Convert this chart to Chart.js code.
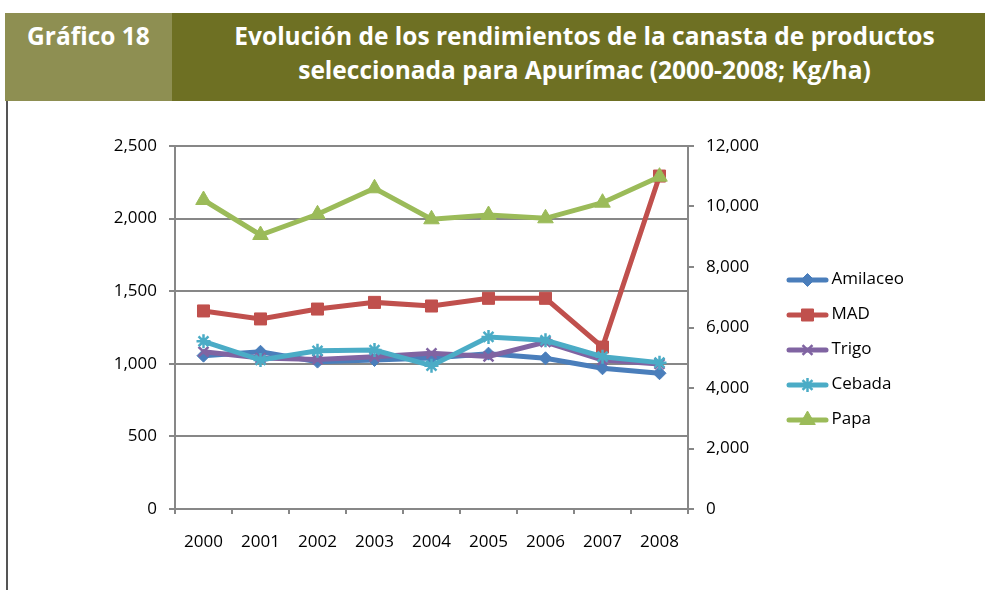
<!DOCTYPE html>
<html>
<head>
<meta charset="utf-8">
<script src="https://cdn.jsdelivr.net/npm/chart.js@4/dist/chart.umd.min.js"></script>
<style>
  html, body { margin: 0; padding: 0; background: #fff; }
  body { width: 987px; height: 590px; position: relative; overflow: hidden; font-family: "Open Sans", sans-serif; }
  #hdr-left {
    position: absolute; left: 5px; top: 13px; width: 167px; height: 88px;
    background: #8e8f52; color: #fff; font-weight: bold; font-size: 24.5px;
    text-align: center; line-height: 30px; padding-top: 8px; box-sizing: border-box;
  }
  #hdr-right {
    position: absolute; left: 172px; top: 13px; width: 813px; height: 88px;
    background: #6e7023; color: #fff; font-weight: bold; font-size: 24.5px;
    text-align: center; line-height: 34px; padding: 6px 0 0 12px; box-sizing: border-box;
  }
  #side-line { position: absolute; left: 6px; top: 101px; width: 2px; height: 489px; background: #555; }
  #chart-wrap { position: absolute; left: 0; top: 101px; width: 987px; height: 489px; }
</style>
</head>
<body>
<div id="hdr-left">Gráfico 18</div>
<div id="hdr-right">Evolución de los rendimientos de la canasta de productos<br>seleccionada para Apurímac (2000-2008; Kg/ha)</div>
<div id="side-line"></div>
<div id="chart-wrap"><canvas id="chart" width="987" height="489"></canvas></div>
<script>
  const years = ["2000", "2001", "2002", "2003", "2004", "2005", "2006", "2007", "2008"];

  // left axis (kg/ha)
  const amilaceo = [1056, 1083, 1015, 1026, 1040, 1070, 1038, 969, 935];
  const mad = [1364, 1309, 1377, 1423, 1398, 1451, 1451, 1115, 2293];
  const trigo = [1083, 1040, 1030, 1049, 1072, 1050, 1150, 1026, 999];
  const cebada = [1155, 1026, 1090, 1095, 987, 1185, 1162, 1049, 1008];
  // right axis (kg/ha)
  const papa = [10215, 9058, 9742, 10602, 9577, 9719, 9610, 10126, 10986];

  const GRID = "#878787";
  const FONT = { family: "Open Sans", size: 17 };

  function series(label, data, color, style, radius, order, axis) {
    const cross = style === "crossRot" || style === "star";
    return {
      label, data, order,
      yAxisID: axis || "y",
      borderColor: color,
      backgroundColor: color,
      borderWidth: 5,
      pointStyle: style,
      pointRadius: radius,
      pointHoverRadius: radius,
      pointBackgroundColor: color,
      pointBorderColor: color,
      pointBorderWidth: cross ? 2.5 : 1,
      tension: 0,
    };
  }

  // legend shows a line sample with the marker on it, as in the reference
  const legendLines = {
    id: "legendLines",
    afterLayout(chart) {
      const lg = chart.legend;
      lg.left = 769;
      lg.right = 769 + lg.width;
    },
    afterDraw(chart) {
      const lg = chart.legend;
      const ctx = chart.ctx;
      lg.legendItems.forEach((item, i) => {
        const box = lg.legendHitBoxes[i];
        const ds = chart.data.datasets[item.datasetIndex];
        const cy = box.top + box.height / 2 + 1;
        ctx.save();
        ctx.strokeStyle = ds.borderColor;
        ctx.fillStyle = ds.borderColor;
        ctx.lineWidth = 5;
        ctx.lineCap = "round";
        ctx.beginPath();
        ctx.moveTo(box.left + 2, cy);
        ctx.lineTo(box.left + 39, cy);
        ctx.stroke();
        if (Chart.helpers && Chart.helpers.drawPoint) {
          ctx.lineWidth = ds.pointBorderWidth;
          ctx.lineCap = "butt";
          Chart.helpers.drawPoint(ctx, {
            pointStyle: ds.pointStyle,
            radius: ds.pointRadius,
            borderWidth: ds.pointBorderWidth,
            rotation: 0,
          }, box.left + 20.5, cy);
        }
        ctx.restore();
      });
    },
  };

  new Chart(document.getElementById("chart"), {
    type: "line",
    data: {
      labels: years,
      datasets: [
        series("Amilaceo", amilaceo, "#4a7ebb", "rectRot", 6.5, 5),
        series("MAD", mad, "#c0504d", "rect", 8.5, 4),
        series("Trigo", trigo, "#8064a2", "crossRot", 7, 3),
        series("Cebada", cebada, "#4bacc6", "star", 7, 2),
        series("Papa", papa, "#9bbb59", "triangle", 9, 1, "y1"),
      ],
    },
    options: {
      responsive: false,
      animation: false,
      devicePixelRatio: 1,
      layout: { padding: { top: 45, bottom: 38, left: 0, right: 0 } },
      plugins: {
        tooltip: { enabled: false },
        legend: {
          position: "right",
          reverse: true,
          labels: {
            color: "#000",
            font: FONT,
            boxWidth: 36,
            boxHeight: 17,
            padding: 18,
            generateLabels(chart) {
              return Chart.defaults.plugins.legend.labels.generateLabels(chart).map((it) => {
                it.fillStyle = "rgba(0,0,0,0)";
                it.strokeStyle = "rgba(0,0,0,0)";
                it.lineWidth = 0;
                return it;
              });
            },
          },
        },
      },
      scales: {
        x: {
          offset: true,
          grid: { offset: true, drawOnChartArea: false, drawTicks: true, tickLength: 5, color: GRID, lineWidth: 2 },
          border: { color: GRID, width: 2 },
          ticks: { color: "#000", font: FONT, padding: 18, maxRotation: 0 },
          afterFit(scale) { scale.height = 43; },
        },
        y: {
          position: "left",
          min: 0,
          max: 2500,
          grid: { color: GRID, lineWidth: 2, tickLength: 6 },
          border: { color: GRID, width: 2 },
          ticks: {
            stepSize: 500,
            color: "#000",
            font: FONT,
            padding: 12,
            callback: (v) => v.toLocaleString("en-US"),
          },
          afterFit(scale) { scale.width = 175; },
        },
        y1: {
          position: "right",
          min: 0,
          max: 12000,
          grid: { drawOnChartArea: false, color: GRID, lineWidth: 2, tickLength: 6 },
          border: { color: GRID, width: 2 },
          ticks: {
            stepSize: 2000,
            color: "#000",
            font: FONT,
            padding: 12,
            callback: (v) => v.toLocaleString("en-US"),
          },
          afterFit(scale) { scale.width = scale.chart.width - scale.chart.legend.width - 688; },
        },
      },
    },
    plugins: [legendLines],
  });
</script>
</body>
</html>
